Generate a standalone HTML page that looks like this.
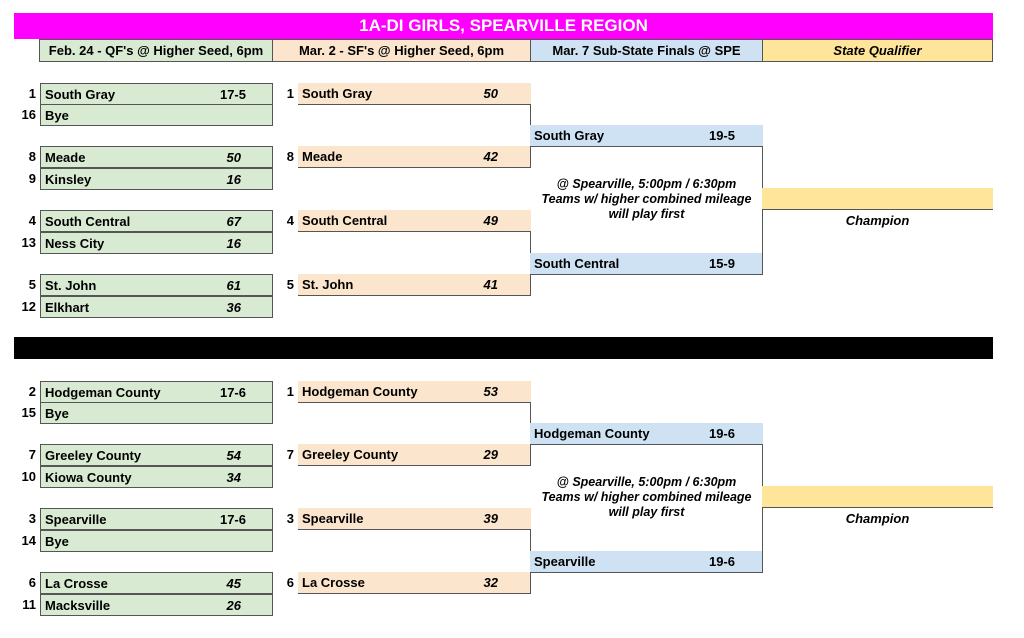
<!DOCTYPE html>
<html><head><meta charset="utf-8"><style>
body{margin:0;width:1024px;height:638px;background:#fff;position:relative;overflow:hidden;font-family:"Liberation Sans",Arial,sans-serif;font-weight:bold;font-size:13px;color:#000}
div{position:absolute;box-sizing:border-box}
.c{height:22px;line-height:21px;padding-left:4px;white-space:nowrap}
.g{background:#d9ead3;border:1px solid #555}
.p{background:#fce5cd;border-bottom:1px solid #555}
.b{background:#cfe2f3;border-bottom:1px solid #555}
.s{text-align:right;width:24px;height:21px;line-height:21px}
.sc{position:absolute;top:0;text-align:right;width:50px}
.i{font-style:italic}
.vl{width:1px;background:#555}
.h{height:23px;line-height:22px;text-align:center;border:1px solid #555;font-size:13px}
.note{font-style:italic;text-align:center;font-size:12.5px;line-height:15px}
</style></head><body>
<div style="left:14px;top:13px;width:979px;height:26px;background:#ff00ff;color:#fff;text-align:center;font-size:17px;line-height:26px">1A-DI GIRLS, SPEARVILLE REGION</div>
<div class="h" style="left:39px;top:39px;width:234px;background:#d9ead3">Feb. 24 - QF's @ Higher Seed, 6pm</div>
<div class="h" style="left:272px;top:39px;width:259px;background:#fce5cd">Mar. 2 - SF's @ Higher Seed, 6pm</div>
<div class="h" style="left:530px;top:39px;width:233px;background:#cfe2f3">Mar. 7 Sub-State Finals @ SPE</div>
<div class="h i" style="left:762px;top:39px;width:231px;background:#ffe599">State Qualifier</div>
<div style="left:14px;top:337px;width:979px;height:22px;background:#000"></div>

<!-- TOP HALF -->
<div class="s" style="left:12px;top:83px">1</div><div class="c g" style="left:40px;top:83px;width:233px">South Gray<span class="sc" style="left:155px">17-5</span></div>
<div class="s" style="left:12px;top:104px">16</div><div class="c g" style="left:40px;top:104px;width:233px">Bye</div>
<div class="s" style="left:12px;top:146px">8</div><div class="c g" style="left:40px;top:146px;width:233px">Meade<span class="sc i" style="left:150px">50</span></div>
<div class="s" style="left:12px;top:168px">9</div><div class="c g" style="left:40px;top:168px;width:233px">Kinsley<span class="sc i" style="left:150px">16</span></div>
<div class="s" style="left:12px;top:210px">4</div><div class="c g" style="left:40px;top:210px;width:233px">South Central<span class="sc i" style="left:150px">67</span></div>
<div class="s" style="left:12px;top:232px">13</div><div class="c g" style="left:40px;top:232px;width:233px">Ness City<span class="sc i" style="left:150px">16</span></div>
<div class="s" style="left:12px;top:274px">5</div><div class="c g" style="left:40px;top:274px;width:233px">St. John<span class="sc i" style="left:150px">61</span></div>
<div class="s" style="left:12px;top:296px">12</div><div class="c g" style="left:40px;top:296px;width:233px">Elkhart<span class="sc i" style="left:150px">36</span></div>

<div class="s" style="left:270px;top:83px">1</div><div class="c p" style="left:298px;top:83px;width:233px">South Gray<span class="sc i" style="left:150px">50</span></div>
<div class="s" style="left:270px;top:146px">8</div><div class="c p" style="left:298px;top:146px;width:233px">Meade<span class="sc i" style="left:150px">42</span></div>
<div class="s" style="left:270px;top:210px">4</div><div class="c p" style="left:298px;top:210px;width:233px">South Central<span class="sc i" style="left:150px">49</span></div>
<div class="s" style="left:270px;top:274px">5</div><div class="c p" style="left:298px;top:274px;width:233px">St. John<span class="sc i" style="left:150px">41</span></div>
<div class="vl" style="left:530px;top:104px;height:64px"></div>
<div class="vl" style="left:530px;top:231px;height:65px"></div>

<div class="c b" style="left:530px;top:125px;width:233px">South Gray<span class="sc" style="left:155px">19-5</span></div>
<div class="c b" style="left:530px;top:253px;width:233px">South Central<span class="sc" style="left:155px">15-9</span></div>
<div class="vl" style="left:762px;top:146px;height:129px"></div>
<div class="note" style="left:530px;top:177px;width:233px">@ Spearville, 5:00pm / 6:30pm<br>Teams w/ higher combined mileage<br>will play first</div>
<div style="left:762px;top:188px;width:231px;height:22px;background:#ffe599;border-bottom:1px solid #555"></div>
<div class="i" style="left:762px;top:213px;width:231px;text-align:center;font-size:13px">Champion</div>

<!-- BOTTOM HALF -->
<div class="s" style="left:12px;top:381px">2</div><div class="c g" style="left:40px;top:381px;width:233px">Hodgeman County<span class="sc" style="left:155px">17-6</span></div>
<div class="s" style="left:12px;top:402px">15</div><div class="c g" style="left:40px;top:402px;width:233px">Bye</div>
<div class="s" style="left:12px;top:444px">7</div><div class="c g" style="left:40px;top:444px;width:233px">Greeley County<span class="sc i" style="left:150px">54</span></div>
<div class="s" style="left:12px;top:466px">10</div><div class="c g" style="left:40px;top:466px;width:233px">Kiowa County<span class="sc i" style="left:150px">34</span></div>
<div class="s" style="left:12px;top:508px">3</div><div class="c g" style="left:40px;top:508px;width:233px">Spearville<span class="sc" style="left:155px">17-6</span></div>
<div class="s" style="left:12px;top:530px">14</div><div class="c g" style="left:40px;top:530px;width:233px">Bye</div>
<div class="s" style="left:12px;top:572px">6</div><div class="c g" style="left:40px;top:572px;width:233px">La Crosse<span class="sc i" style="left:150px">45</span></div>
<div class="s" style="left:12px;top:594px">11</div><div class="c g" style="left:40px;top:594px;width:233px">Macksville<span class="sc i" style="left:150px">26</span></div>

<div class="s" style="left:270px;top:381px">1</div><div class="c p" style="left:298px;top:381px;width:233px">Hodgeman County<span class="sc i" style="left:150px">53</span></div>
<div class="s" style="left:270px;top:444px">7</div><div class="c p" style="left:298px;top:444px;width:233px">Greeley County<span class="sc i" style="left:150px">29</span></div>
<div class="s" style="left:270px;top:508px">3</div><div class="c p" style="left:298px;top:508px;width:233px">Spearville<span class="sc i" style="left:150px">39</span></div>
<div class="s" style="left:270px;top:572px">6</div><div class="c p" style="left:298px;top:572px;width:233px">La Crosse<span class="sc i" style="left:150px">32</span></div>
<div class="vl" style="left:530px;top:402px;height:64px"></div>
<div class="vl" style="left:530px;top:529px;height:65px"></div>

<div class="c b" style="left:530px;top:423px;width:233px">Hodgeman County<span class="sc" style="left:155px">19-6</span></div>
<div class="c b" style="left:530px;top:551px;width:233px">Spearville<span class="sc" style="left:155px">19-6</span></div>
<div class="vl" style="left:762px;top:444px;height:129px"></div>
<div class="note" style="left:530px;top:475px;width:233px">@ Spearville, 5:00pm / 6:30pm<br>Teams w/ higher combined mileage<br>will play first</div>
<div style="left:762px;top:486px;width:231px;height:22px;background:#ffe599;border-bottom:1px solid #555"></div>
<div class="i" style="left:762px;top:511px;width:231px;text-align:center;font-size:13px">Champion</div>
</body></html>
